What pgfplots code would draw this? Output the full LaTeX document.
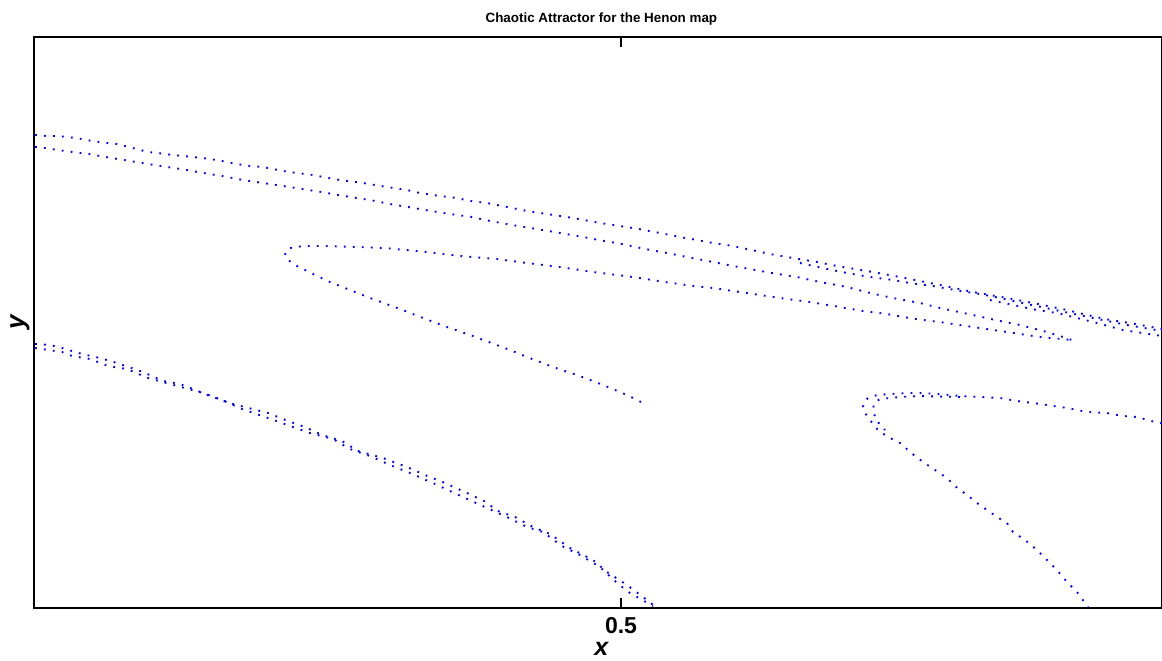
\documentclass[border=0pt]{standalone}
\usepackage{pgfplots}
\pgfplotsset{compat=1.18}
\usepackage{fontspec}
\setmainfont{Liberation Sans}
\definecolor{dotblue}{RGB}{0,0,255}
\pgfplotsset{henon/.style={dotblue, line width=0.95pt, dash pattern=on 0.9pt off 3.6pt, line cap=butt, no marks}}
\begin{document}
\begin{tikzpicture}
\begin{axis}[
  scale only axis, width=564pt, height=285.5pt,
  xmin=34, xmax=1162, ymin=37, ymax=608, y dir=reverse,
  axis line style={line width=0.9pt},
  xtick={621}, xticklabels={0.5}, ytick=\empty,
  major tick length=5pt, tick style={black, line width=0.6pt},
  xticklabel style={font=\fontsize{11.5}{12}\selectfont\bfseries, yshift=-1pt},
  xlabel={\bfseries\itshape x},
  xlabel style={font=\fontsize{12.5}{13}\selectfont, at={(axis description cs:0.503,0)}, anchor=center, yshift=-20.3pt},
  ylabel={\bfseries\itshape y},
  ylabel style={font=\fontsize{13}{14}\selectfont, at={(axis description cs:0,0.5)}, anchor=center, yshift=7pt},
  title={\bfseries Chaotic Attractor for the Henon map},
  title style={font=\fontsize{6.7}{7}\selectfont, at={(axis description cs:0.503,1)}, anchor=center, yshift=3pt},
  clip=true,
]
% upper band, top strand
\addplot[henon] coordinates {(35,135) (47,136) (57,136) (68,137) (82,139) (92,141) (107,143) (117,144) (148,152) (158,153) (173,155) (193,157) (210,159) (222,161) (237,164) (250,166) (263,167) (283,171) (297,173) (313,175) (323,177) (340,180) (363,183) (387,187) (407,190) (420,193) (440,196) (457,198) (470,201) (487,203) (507,207) (527,211) (547,214) (573,218) (600,223) (620,226) (633,228) (660,233) (680,237) (697,240) (713,243) (727,245) (747,249) (770,254) (793,258) (817,262) (837,266) (867,271) (900,277) (940,285) (973,292) (1007,298) (1033,303) (1067,310) (1087,315) (1110,320) (1130,323) (1162,329)};
\addplot[henon] coordinates {(800,263) (827,269) (847,273) (870,277) (893,280) (910,283) (933,286) (960,291) (980,294) (1000,298) (1027,304) (1060,311) (1093,318) (1127,325) (1162,331)};
\addplot[henon] coordinates {(990,300) (1013,305) (1037,310) (1057,313) (1077,318) (1097,323) (1123,330) (1162,336)};
% upper band, second strand
\addplot[henon] coordinates {(35,147) (38,147) (65,151) (80,153) (90,154) (100,156) (118,159) (142,163) (148,164) (187,170) (203,173) (222,176) (243,180) (263,183) (283,186) (315,191) (327,193) (350,197) (370,200) (390,204) (408,207) (425,210) (450,214) (472,217) (490,221) (518,226) (537,229) (560,233) (578,236) (599,240) (622,244) (645,249) (667,253) (687,257) (703,260) (718,263) (733,266) (772,273) (797,277) (820,282) (847,287) (870,293) (893,298) (920,303) (940,308) (973,315) (1000,321) (1020,325) (1047,332) (1060,336) (1072,340)};
% left fold
\addplot[henon] coordinates {(641,402) (627,395) (603,385) (577,375) (553,367) (527,357) (510,350) (470,335) (447,327) (423,318) (400,309) (370,298) (350,290) (330,282) (313,274) (297,266) (288,260) (285,255) (286,251) (290,248) (303,246) (327,246) (357,247) (385,248) (427,252) (460,256) (497,259) (527,263) (560,267) (593,272) (633,277) (665,282) (693,286) (713,288) (760,295) (780,298) (810,302) (840,307) (863,311) (887,314) (903,317) (923,320) (940,322) (973,327) (1007,332) (1040,337) (1072,340)};
% lower-left band
\addplot[henon] coordinates {(35,344) (50,345) (62,348) (82,354) (100,358) (117,363) (143,372) (163,381) (180,384) (193,389) (210,396) (233,404) (268,413) (288,421) (305,427) (322,435) (342,441) (358,451) (383,458) (407,467) (425,475) (445,483) (467,493) (484,501) (498,511) (515,517) (533,527) (550,534) (570,548) (593,560) (607,572) (627,585) (647,600) (657,608)};
\addplot[henon] coordinates {(35,348) (62,352) (72,356) (90,359) (108,366) (127,369) (148,378) (170,384) (203,393) (222,400) (242,409) (268,418) (293,427) (310,433) (333,439) (350,449) (370,456) (390,465) (410,473) (435,484) (463,497) (487,508) (507,517) (527,527) (543,532) (562,546) (580,555) (600,567) (617,583) (630,593) (653,606)};
% right fold
\addplot[henon] coordinates {(1162,423) (1155,422) (1137,417) (1123,416) (1107,413) (1087,412) (1067,408) (1047,405) (1033,403) (1017,401) (1000,398) (980,397) (960,396) (940,394) (920,393) (907,393) (890,394) (877,395) (868,398) (864,402) (863,407) (865,413) (870,420) (878,430) (888,437) (900,443) (910,452) (923,462) (935,470) (947,478) (955,486) (967,495) (977,503) (987,510) (997,517) (1007,523) (1013,532) (1025,540) (1037,550) (1047,560) (1057,570) (1067,582) (1077,592) (1088,607)};
\addplot[henon] coordinates {(960,397) (920,396) (900,397) (880,399) (874,403) (873,410) (876,420) (885,430)};
\end{axis}
\pgfresetboundingbox
\path ([shift={(-17pt,-26pt)}]current axis.south west) rectangle ([shift={(0pt,18.5pt)}]current axis.north east);
\end{tikzpicture}
\end{document}
